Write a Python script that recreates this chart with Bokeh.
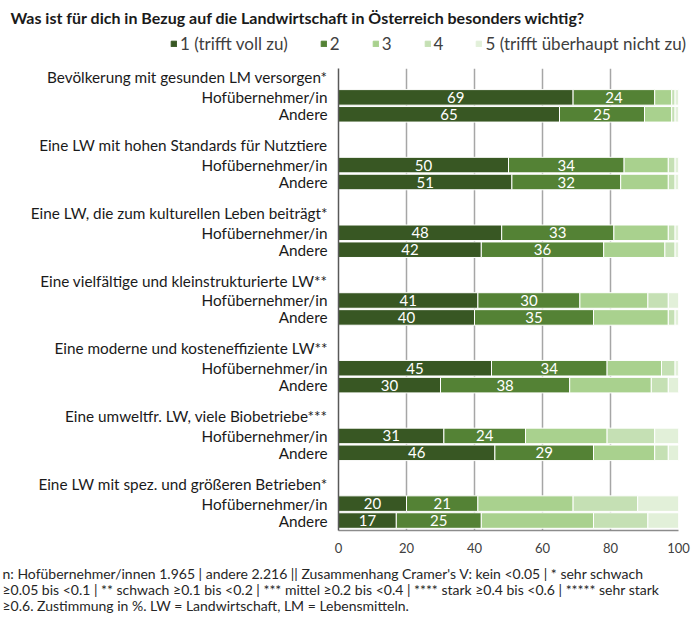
from bokeh.plotting import figure
from bokeh.layouts import column
from bokeh.models import Range1d, FixedTicker, ColumnDataSource, Legend, LegendItem, Label
from bokeh.embed import file_html
from bokeh.resources import INLINE
from bokeh.core.properties import value

title_text = "Was ist für dich in Bezug auf die Landwirtschaft  in Österreich besonders  wichtig?"
items = [
    "Bevölkerung mit gesunden LM versorgen*",
    "Eine LW mit hohen Standards für Nutztiere",
    "Eine LW, die zum kulturellen Leben beiträgt*",
    "Eine vielfältige und kleinstrukturierte LW**",
    "Eine moderne und kosteneffiziente LW**",
    "Eine umweltfr. LW, viele Biobetriebe***",
    "Eine LW mit spez. und größeren Betrieben*",
]
groups = ["Hofübernehmer/in", "Andere"]
levels = ["1 (trifft voll zu)", "2", "3", "4", "5 (trifft überhaupt nicht zu)"]
# order per item: Hofübernehmer/in, Andere
lvl1 = [69, 65, 50, 51, 48, 42, 41, 40, 45, 30, 31, 46, 20, 17]
lvl2 = [24, 25, 34, 32, 33, 36, 30, 35, 34, 38, 24, 29, 21, 25]
lvl3 = [5, 8, 13, 14, 16, 18, 20, 22, 16, 24, 24, 18, 28, 33]
lvl4 = [1, 1, 2, 2, 2, 3, 6, 2, 4, 5, 14, 4, 19, 16]
lvl5 = [1, 1, 1, 1, 1, 1, 3, 1, 1, 3, 7, 3, 12, 9]
x_ticks = [0, 20, 40, 60, 80, 100]
footnote = [
    "n: Hofübernehmer/innen 1.965 | andere 2.216 || Zusammenhang Cramer's V: kein <0.05 | * sehr schwach",
    "≥0.05 bis <0.1 | ** schwach ≥0.1 bis <0.2 | *** mittel ≥0.2 bis <0.4 | **** stark ≥0.4 bis <0.6 | ***** sehr stark",
    "≥0.6. Zustimmung in %. LW = Landwirtschaft, LM = Lebensmitteln.",
]

colors = ["#385723", "#548235", "#a9d18e", "#c5e0b4", "#e2f0d9"]
FONT = "Lato"
W = 692
TOP_H, MAIN_H, BOT_H = 62, 496, 58
G, OFF_HOF, OFF_AND = 68, 20, 37


def blank(h):
    f = figure(width=W, height=h, x_range=Range1d(0, 1), y_range=Range1d(0, 1),
               x_axis_location=None, y_axis_location=None, min_border=0,
               toolbar_location=None, output_backend="svg")
    f.outline_line_color = None
    f.grid.visible = False
    f.frame_align = False
    return f


# ---------- header: title + legend ----------
top = blank(TOP_H)
top.add_layout(Label(x=10, y=TOP_H - 17, x_units="screen", y_units="screen", text=title_text,
                     text_font=FONT, text_font_style="bold", text_font_size="16px",
                     text_baseline="middle", text_color="#1a1a1a"))
# legend proxies (kept outside the visible range of the header strip)
dummies = [top.hbar(y=[-10], right=[1], height=1, color=c) for c in colors]
legend = Legend(items=[LegendItem(label=lv, renderers=[r]) for lv, r in zip(levels, dummies)],
                orientation="horizontal", location=(168, TOP_H - 56),
                border_line_alpha=0, background_fill_alpha=0,
                glyph_width=7, glyph_height=7, label_standoff=3, spacing=32,
                label_width=0, label_height=12, padding=2, margin=0,
                label_text_font=FONT, label_text_font_size="17px", label_text_color="#404040")
top.add_layout(legend)

# ---------- main chart ----------
row_y = []
tick_pos = []
overrides = {}
for g, name in enumerate(items):
    h = -(g * G)
    tick_pos.append(h)
    overrides[h] = name
    for off, grp in zip((OFF_HOF, OFF_AND), groups):
        yy = -(g * G + off)
        row_y.append(yy)
        tick_pos.append(yy)
        overrides[yy] = grp

keys = ["l1", "l2", "l3", "l4", "l5"]
src = ColumnDataSource(dict(y=row_y, l1=lvl1, l2=lvl2, l3=lvl3, l4=lvl4, l5=lvl5))

p = figure(width=W, height=MAIN_H, output_backend="svg", toolbar_location=None,
           x_range=Range1d(0, 100), y_range=Range1d(-455, 9),
           min_border_left=338, min_border_right=W - 678, min_border_top=6,
           min_border_bottom=28)
p.outline_line_color = None
p.frame_align = False

p.hbar_stack(keys, y="y", height=15.6, color=colors, source=src,
             line_color="white", line_width=1)

lab_x = [a / 2 for a in lvl1] + [a + b / 2 for a, b in zip(lvl1, lvl2)]
lab_y = row_y + row_y
lab_t = [str(a) for a in lvl1] + [str(b) for b in lvl2]
p.text(x=lab_x, y=lab_y, text=lab_t, text_color="white", text_align="center",
       text_baseline="middle", text_font=value(FONT), text_font_size="15px")

p.xaxis.ticker = FixedTicker(ticks=x_ticks)
p.xaxis.major_tick_line_color = None
p.xaxis.minor_tick_line_color = None
p.xaxis.axis_line_color = "#8c8c8c"
p.xaxis.axis_line_width = 1.5
p.xaxis.major_label_text_font = FONT
p.xaxis.major_label_text_font_size = "13px"
p.xaxis.major_label_text_color = "#404040"
p.xaxis.major_label_standoff = 6

p.yaxis.ticker = FixedTicker(ticks=tick_pos)
p.yaxis.major_label_overrides = overrides
p.yaxis.major_tick_line_color = None
p.yaxis.minor_tick_line_color = None
p.yaxis.axis_line_color = "#595959"
p.yaxis.axis_line_width = 1.5
p.yaxis.major_label_text_font = FONT
p.yaxis.major_label_text_font_size = "15.3px"
p.yaxis.major_label_text_color = "#1a1a1a"
p.yaxis.major_label_standoff = 5

p.ygrid.grid_line_color = None
p.xgrid.ticker = FixedTicker(ticks=x_ticks[1:])
p.xgrid.grid_line_color = "#a6a6a6"
p.xgrid.grid_line_width = 1.5

# ---------- footnote ----------
bot = blank(BOT_H)
for i, line in enumerate(footnote):
    bot.add_layout(Label(x=2, y=BOT_H - 15 - 16 * i, x_units="screen", y_units="screen",
                         text=line, text_font=FONT, text_font_size="14px",
                         text_baseline="middle", text_color="#262626"))

layout = column(top, p, bot, spacing=0)
open("out.html", "w").write(file_html(layout, INLINE))
